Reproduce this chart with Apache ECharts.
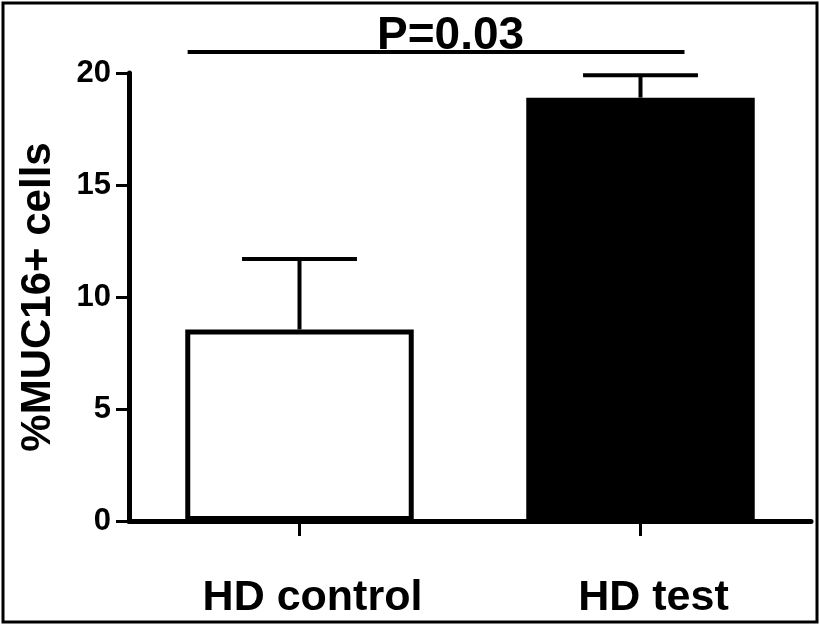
<!DOCTYPE html>
<html>
<head>
<meta charset="utf-8">
<script src="https://cdn.jsdelivr.net/npm/echarts@6/dist/echarts.min.js"></script>
<style>
html,body{margin:0;padding:0;background:#fff;}
#chart{width:820px;height:626px;}
</style>
</head>
<body>
<div id="chart"></div>
<script>
// ---- data ----
var categories = ['HD control', 'HD test'];
var means = [8.55, 18.9];
var errorTops = [11.7, 19.9];
var yTicks = [0, 5, 10, 15, 20];
var pLabel = 'P=0.03';
var sigLevel = 20.94;
var sigFromCat = 0;
var sigToCat = 1;

var FONT = '"Liberation Sans", Arial, Helvetica, sans-serif';
var NARROW = '"Liberation Sans Narrow", "Arial Narrow", "Liberation Sans", Arial, sans-serif';
var chart = echarts.init(document.getElementById('chart'), null, {renderer: 'canvas'});

var errData = categories.map(function (c, i) { return [i, means[i], errorTops[i]]; });

var option = {
  backgroundColor: '#ffffff',
  animation: false,
  title: {
    text: pLabel,
    left: 372,
    top: 8,
    textStyle: {fontFamily: FONT, fontWeight: 'bold', fontSize: 46, color: '#000'}
  },
  grid: {left: 129, right: 9, top: 73, bottom: 105, containLabel: false},
  xAxis: {
    type: 'category',
    data: categories,
    axisLine: {lineStyle: {color: '#000', width: 5}},
    axisTick: {show: true, alignWithLabel: true, length: 15, lineStyle: {color: '#000', width: 3}},
    axisLabel: {
      fontFamily: FONT, fontWeight: 'bold', fontSize: 43, color: '#000',
      margin: 56, padding: [0, 0, 0, 26]
    }
  },
  yAxis: {
    type: 'value',
    min: 0, max: 20, interval: 5,
    name: '%MUC16+ cells',
    nameLocation: 'middle',
    nameGap: 70,
    nameTextStyle: {fontFamily: FONT, fontWeight: 'bold', fontSize: 42, color: '#000'},
    axisLine: {show: true, lineStyle: {color: '#000', width: 5}},
    axisTick: {show: true, length: 13, lineStyle: {color: '#000', width: 3}},
    splitLine: {show: false},
    axisLabel: {
      fontFamily: NARROW, fontWeight: 'bold', fontSize: 31, color: '#000', margin: 18,
      formatter: function (v) { return yTicks.indexOf(v) >= 0 ? String(v) : ''; }
    }
  },
  series: [
    {
      type: 'bar',
      barWidth: '67%',
      data: means.map(function (v, i) {
        return {
          value: v,
          itemStyle: {
            color: i === 0 ? '#ffffff' : '#000000',
            borderColor: '#000', borderWidth: 5
          }
        };
      }),
      z: 2
    },
    {
      type: 'custom',
      data: errData,
      z: 3,
      renderItem: function (params, api) {
        var x = api.value(0);
        var top = api.coord([x, api.value(2)]);
        var base = api.coord([x, api.value(1)]);
        var band = api.size([1, 0])[0];
        var half = band * 0.337 / 2;
        var style = {stroke: '#000', lineWidth: 4};
        return {
          type: 'group',
          children: [
            {type: 'line', shape: {x1: top[0], y1: base[1], x2: top[0], y2: top[1]}, style: style},
            {type: 'line', shape: {x1: top[0] - half, y1: top[1], x2: top[0] + half, y2: top[1]}, style: style}
          ]
        };
      }
    },
    {
      type: 'custom',
      data: [[sigFromCat, sigToCat, sigLevel]],
      clip: false,
      z: 3,
      renderItem: function (params, api) {
        var band = api.size([1, 0])[0];
        var p1 = api.coord([api.value(0), api.value(2)]);
        var p2 = api.coord([api.value(1), api.value(2)]);
        return {
          type: 'line',
          shape: {x1: p1[0] - band * 0.328, y1: p1[1], x2: p2[0] + band * 0.129, y2: p2[1]},
          style: {stroke: '#000', lineWidth: 4}
        };
      }
    }
  ],
  graphic: [
    {
      type: 'rect',
      shape: {x: 3, y: 3, width: 814, height: 619},
      style: {fill: null, stroke: '#000', lineWidth: 3},
      silent: true
    }
  ]
};
chart.setOption(option);
</script>
</body>
</html>
